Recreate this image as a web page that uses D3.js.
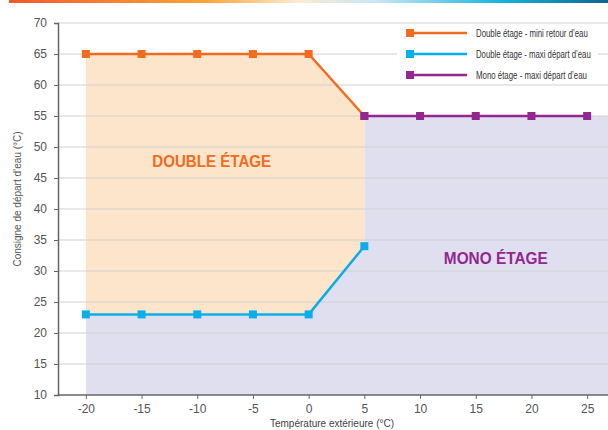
<!DOCTYPE html>
<html>
<head>
<meta charset="utf-8">
<script src="https://cdn.jsdelivr.net/npm/d3@7"></script>
<style>
  body { margin: 0; background: #fff; }
  svg { display: block; font-family: "Liberation Sans", Arial, sans-serif; }
  .narrow { font-family: "Liberation Sans Narrow", "Arial Narrow", "Liberation Sans", sans-serif; }
</style>
</head>
<body>
<svg id="chart" width="608" height="430"></svg>
<script>
// data
const tempDouble = [-20, -15, -10, -5, 0, 5];
const miniRetour = [65, 65, 65, 65, 65, 55];
const maxiDepartDouble = [23, 23, 23, 23, 23, 34];
const tempMono = [5, 10, 15, 20, 25];
const maxiDepartMono = [55, 55, 55, 55, 55];
const xTicks = [-20, -15, -10, -5, 0, 5, 10, 15, 20, 25];
const yTicks = [10, 15, 20, 25, 30, 35, 40, 45, 50, 55, 60, 65, 70];
const legendLabels = [
  "Double étage - mini retour d’eau",
  "Double étage - maxi départ d’eau",
  "Mono étage - maxi départ d’eau"
];
const colors = ["#f26b21", "#0aaeea", "#92278f"];

const svg = d3.select("#chart");

// squeeze a text horizontally to a wanted width (reference uses a condensed face)
function condense(sel, px, py, w) {
  const natural = sel.node().getComputedTextLength();
  const k = Math.min(1, w / natural);
  sel.attr("transform", "translate(" + px + "," + py + ") scale(" + k + ",1)");
}

// top gradient stripe
const defs = svg.append("defs");
const grad = defs.append("linearGradient").attr("id", "topbar");
[["0%", "#f15a2b"], ["33%", "#f9a53a"], ["48%", "#fdebd0"], ["62%", "#c4e6f6"],
 ["82%", "#18b4df"], ["100%", "#0d6690"]].forEach(function (s) {
  grad.append("stop").attr("offset", s[0]).attr("stop-color", s[1]);
});
svg.append("rect").attr("x", 9).attr("y", 0).attr("width", 599).attr("height", 3)
  .attr("fill", "url(#topbar)");

const x = d3.scaleLinear().domain([-22.5, 27.5]).range([58, 615]);
const y = d3.scaleLinear().domain([10, 70]).range([395, 23]);

const dbl = tempDouble.map(function (t, i) {
  return { t: t, hi: miniRetour[i], lo: maxiDepartDouble[i] };
});
const mono = tempMono.map(function (t, i) { return { t: t, v: maxiDepartMono[i] }; });

// lavender area (mono zone): under the blue line, then under 55 on the right
const lavPts = dbl.map(function (d) { return [d.t, d.lo]; })
  .concat(mono.map(function (d) { return [d.t, d.v]; }))
  .concat([[27.5, 55]]);
svg.append("path")
  .datum(lavPts)
  .attr("fill", "#e0dfef")
  .attr("d", d3.area().x(d => x(d[0])).y0(y(10)).y1(d => y(d[1])));

// orange area (double zone): between the two double lines
svg.append("path")
  .datum(dbl)
  .attr("fill", "#fde5cb")
  .attr("d", d3.area().x(d => x(d.t)).y0(d => y(d.lo)).y1(d => y(d.hi)));

// gridlines
svg.append("g").selectAll("line")
  .data(yTicks.filter(v => v > 10))
  .enter().append("line")
  .attr("x1", 58).attr("x2", 608)
  .attr("y1", d => y(d)).attr("y2", d => y(d))
  .attr("stroke", "#d2d2d2").attr("stroke-width", 1.2);

// axes
const yAxis = svg.append("g").attr("transform", "translate(58,0)")
  .call(d3.axisLeft(y).tickValues(yTicks).tickSize(4).tickPadding(7));
const xAxis = svg.append("g").attr("transform", "translate(0,395)")
  .call(d3.axisBottom(x).tickValues(xTicks).tickSize(4).tickPadding(5)
    .tickFormat(d => String(d)));
[yAxis, xAxis].forEach(function (g) {
  g.select(".domain").attr("stroke", "#666").attr("stroke-width", 1.5);
  g.selectAll(".tick line").attr("stroke", "#666");
  g.selectAll("text").attr("fill", "#555").attr("font-size", 12)
    .attr("font-family", "'Liberation Sans', Arial, sans-serif");
});
xAxis.select(".domain").attr("d", "M58,0H608");

// axis titles
svg.append("text").attr("x", 332).attr("y", 427).attr("text-anchor", "middle")
  .attr("font-size", 10).attr("fill", "#444").text("Température extérieure (°C)");
svg.append("text").attr("transform", "translate(21,199) rotate(-90)")
  .attr("text-anchor", "middle").attr("font-size", 10).attr("fill", "#555")
  .text("Consigne de départ d’eau (°C)");

// zone labels
const dblLabel = svg.append("text").attr("text-anchor", "middle")
  .attr("font-size", 16.5).attr("font-weight", "bold").attr("fill", "#f26b21")
  .attr("class", "narrow").text("DOUBLE ÉTAGE");
condense(dblLabel, x(-8.7), y(46.8), 119);
const monoLabel = svg.append("text").attr("text-anchor", "middle")
  .attr("font-size", 16.5).attr("font-weight", "bold").attr("fill", "#92278f")
  .attr("class", "narrow").text("MONO ÉTAGE");
condense(monoLabel, x(16.8), y(31.2), 104);

// series lines + square markers
const series = [
  dbl.map(d => [d.t, d.hi]),
  dbl.map(d => [d.t, d.lo]),
  mono.map(d => [d.t, d.v])
];
const line = d3.line().x(d => x(d[0])).y(d => y(d[1]));
series.forEach(function (pts, i) {
  svg.append("path").datum(pts).attr("fill", "none")
    .attr("stroke", colors[i]).attr("stroke-width", 2.5).attr("d", line);
  svg.append("g").selectAll("rect").data(pts).enter().append("rect")
    .attr("x", d => x(d[0]) - 4).attr("y", d => y(d[1]) - 4)
    .attr("width", 8).attr("height", 8).attr("fill", colors[i]);
});

// legend
const legend = svg.append("g");
legend.append("rect").attr("x", 397).attr("y", 26).attr("width", 201).attr("height", 56)
  .attr("fill", "#fff");
const legendWidths = [112, 115, 111];
legendLabels.forEach(function (lab, i) {
  const ly = 33 + i * 21;
  legend.append("line").attr("x1", 407).attr("x2", 467).attr("y1", ly).attr("y2", ly)
    .attr("stroke", colors[i]).attr("stroke-width", 2.5);
  legend.append("rect").attr("x", 406).attr("y", ly - 4).attr("width", 8).attr("height", 8)
    .attr("fill", colors[i]);
  const t = legend.append("text").attr("font-size", 10)
    .attr("class", "narrow").attr("fill", "#333").text(lab);
  condense(t, 476, ly + 3.5, legendWidths[i]);
});
</script>
</body>
</html>
